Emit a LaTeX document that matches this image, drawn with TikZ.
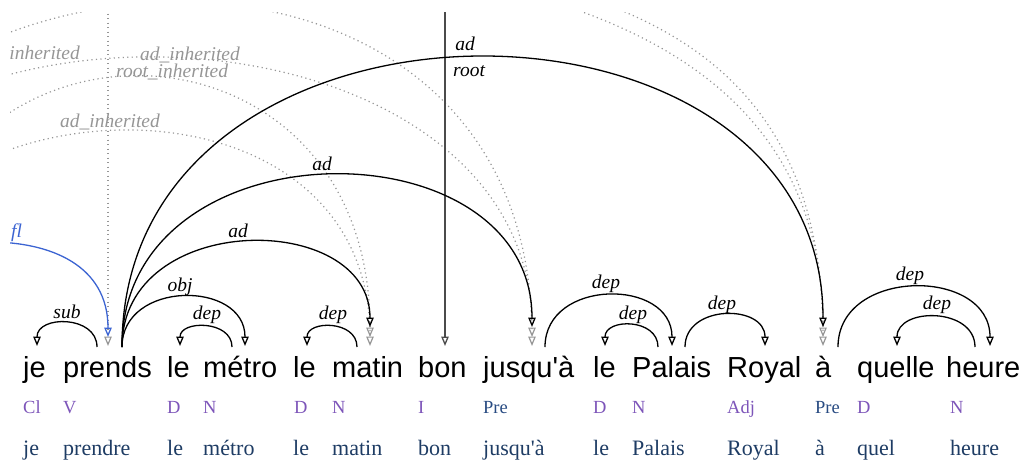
\documentclass[tikz,border=0pt]{standalone}
\usepackage{fontspec}
\setmainfont{Liberation Serif}
\newfontfamily\wordfont{Liberation Sans}
\usetikzlibrary{arrows.meta}
\definecolor{posc}{RGB}{125,85,185}
\definecolor{prec}{RGB}{40,75,130}
\definecolor{lemc}{RGB}{30,60,100}
\definecolor{flc}{RGB}{60,100,210}
\definecolor{inhc}{RGB}{150,150,150}
\definecolor{rootc}{RGB}{75,75,75}
\begin{document}
\begin{tikzpicture}[x=1pt,y=-1pt,
  word/.style={font=\wordfont\fontsize{29}{30}\selectfont, anchor=base west, inner sep=0pt},
  posn/.style={font=\fontsize{18.5}{20}\selectfont, text=posc, anchor=base west, inner sep=0pt},
  prepos/.style={posn, text=prec},
  lemma/.style={font=\fontsize{22}{24}\selectfont, text=lemc, anchor=base west, inner sep=0pt},
  lab/.style={font=\itshape\fontsize{19.5}{20}\selectfont, anchor=base, inner sep=0pt},
  inhlab/.style={lab, text=inhc},
  tip/.style={-{Triangle[open,length=9.5pt,width=7.5pt]}},
  arcline/.style={tip, line width=1.3pt, black},
  inharc/.style={tip, line width=1.2pt, inhc, dash pattern=on 1.2pt off 3.3pt},
  flarc/.style={tip, line width=1.3pt, flc},
  rootarc/.style={tip, line width=1.3pt, rootc}]
\useasboundingbox (0,0) rectangle (1030,459);
\clip (10,12) rectangle (1030,459);

% words
\node[word] (w1) at (23,377) {je};
\node[word] (w2) at (63,377) {prends};
\node[word] (w3) at (167,377) {le};
\node[word] (w4) at (203,377) {métro};
\node[word] (w5) at (293,377) {le};
\node[word] (w6) at (332,377) {matin};
\node[word] (w7) at (418,377) {bon};
\node[word] (w8) at (483,377) {jusqu\textquotesingle à};
\node[word] (w9) at (593,377) {le};
\node[word] (w10) at (632,377) {Palais};
\node[word] (w11) at (727,377) {Royal};
\node[word] (w12) at (815,377) {à};
\node[word] (w13) at (857,377) {quelle};
\node[word] (w14) at (946,377) {heure};

% POS
\node[posn] (p1) at (23,413) {Cl};
\node[posn] (p2) at (63,413) {V};
\node[posn] (p3) at (167,413) {D};
\node[posn] (p4) at (203,413) {N};
\node[posn] (p5) at (294,413) {D};
\node[posn] (p6) at (332,413) {N};
\node[posn] (p7) at (418,413) {I};
\node[prepos] (p8) at (483,413) {Pre};
\node[posn] (p9) at (593,413) {D};
\node[posn] (p10) at (632,413) {N};
\node[posn] (p11) at (727,413) {Adj};
\node[prepos] (p12) at (815,413) {Pre};
\node[posn] (p13) at (857,413) {D};
\node[posn] (p14) at (950,413) {N};

% lemmas
\node[lemma] (l1) at (23,455) {je};
\node[lemma] (l2) at (63,455) {prendre};
\node[lemma] (l3) at (167,455) {le};
\node[lemma] (l4) at (203,455) {métro};
\node[lemma] (l5) at (293,455) {le};
\node[lemma] (l6) at (332,455) {matin};
\node[lemma] (l7) at (418,455) {bon};
\node[lemma] (l8) at (483,455) {jusqu\textquotesingle à};
\node[lemma] (l9) at (593,455) {le};
\node[lemma] (l10) at (632,455) {Palais};
\node[lemma] (l11) at (727,455) {Royal};
\node[lemma] (l12) at (815,455) {à};
\node[lemma] (l13) at (857,455) {quel};
\node[lemma] (l14) at (950,455) {heure};

% attachment points
\coordinate (je-in) at (37,346);
\coordinate (prends-sub) at (97,347);
\coordinate (prends-out) at (122,347);
\coordinate (prends-fl) at (108,337);
\coordinate (prends-inh) at (108,346);
\coordinate (le1-in) at (180,346);
\coordinate (metro-in) at (245,346);
\coordinate (metro-out) at (232,347);
\coordinate (le2-in) at (307,346);
\coordinate (matin-out) at (357,347);
\coordinate (matin-in) at (370,327);
\coordinate (matin-i1) at (370,337);
\coordinate (matin-i2) at (370,346);
\coordinate (bon-in) at (445,346);
\coordinate (jus-in) at (532,327);
\coordinate (jus-i1) at (532,337);
\coordinate (jus-i2) at (532,346);
\coordinate (jus-out) at (545,347);
\coordinate (le3-in) at (605,346);
\coordinate (pal-out1) at (658,347);
\coordinate (pal-in) at (672,346);
\coordinate (pal-out2) at (685,347);
\coordinate (royal-in) at (765,346);
\coordinate (a-in) at (823,327);
\coordinate (a-i1) at (823,337);
\coordinate (a-i2) at (823,346);
\coordinate (a-out) at (838,347);
\coordinate (quel-in) at (897,346);
\coordinate (heure-out) at (975,347);
\coordinate (heure-in) at (990,346);
% free ends outside the visible fragment
\coordinate (roottop) at (445,0);
\coordinate (inhtop) at (108,0);
\coordinate (flstart) at (-10,242);
\coordinate (o1) at (-150,346);
\coordinate (o2) at (-100,337);
\coordinate (o3) at (-230,337);
\coordinate (o4) at (-230,346);
\coordinate (o5) at (150,-50);
\coordinate (o6) at (100,-50);

% inherited (dotted) arcs
\draw[inharc] (inhtop) -- (prends-inh);
\draw[inharc] (o1) .. controls (-150,80) and (370,40) .. (matin-i2);
\draw[inharc] (o2) .. controls (-100,-10) and (370,-10) .. (matin-i1);
\draw[inharc] (o3) .. controls (-230,-40) and (532,-30) .. (jus-i1);
\draw[inharc] (o4) .. controls (-230,-70) and (532,-150) .. (jus-i2);
\draw[inharc] (o5) .. controls (550,-50) and (823,0) .. (a-i2);
\draw[inharc] (o6) .. controls (500,-50) and (823,20) .. (a-i1);

\node[inhlab, anchor=base east] (il1) at (80,59) {ad\_inherited};
\node[inhlab] (il2) at (190,60) {ad\_inherited};
\node[inhlab, anchor=base west] (il3) at (116,77) {root\_inherited};
\node[inhlab] (il4) at (110,127) {ad\_inherited};

% fl (blue)
\draw[flarc] (flstart) .. controls (50,242) and (108,265) .. (prends-fl);
\node[lab, text=flc, anchor=base west] (lfl) at (11,237) {fl};

% root
\draw[rootarc] (roottop) -- (bon-in);
\node[lab, anchor=base west] (lroot) at (453,76) {root};

% dependency arcs
\draw[arcline] (prends-sub) .. controls (97,315) and (37,315) .. (je-in);
\node[lab] (lsub) at (67,318) {sub};
\draw[arcline] (prends-out) .. controls (122,280) and (245,280) .. (metro-in);
\node[lab] (lobj) at (180,291) {obj};
\draw[arcline] (metro-out) .. controls (232,320) and (180,320) .. (le1-in);
\node[lab] (ld1) at (207,319) {dep};
\draw[arcline] (prends-out) .. controls (122,210) and (370,210) .. (matin-in);
\node[lab] (lad1) at (238,237) {ad};
\draw[arcline] (matin-out) .. controls (357,320) and (307,320) .. (le2-in);
\node[lab] (ld2) at (333,319) {dep};
\draw[arcline] (prends-out) .. controls (122,121) and (532,121) .. (jus-in);
\node[lab] (lad2) at (322,170) {ad};
\draw[arcline] (prends-out) .. controls (122,-36) and (823,-36) .. (a-in);
\node[lab] (lad3) at (465,50) {ad};
\draw[arcline] (jus-out) .. controls (545,278) and (672,278) .. (pal-in);
\node[lab] (ld3) at (606,288) {dep};
\draw[arcline] (pal-out1) .. controls (658,318) and (605,318) .. (le3-in);
\node[lab] (ld4) at (633,319) {dep};
\draw[arcline] (pal-out2) .. controls (685,304) and (765,304) .. (royal-in);
\node[lab] (ld5) at (722,309) {dep};
\draw[arcline] (a-out) .. controls (838,267) and (990,267) .. (heure-in);
\node[lab] (ld6) at (910,280) {dep};
\draw[arcline] (heure-out) .. controls (975,307) and (897,307) .. (quel-in);
\node[lab] (ld7) at (937,309) {dep};
\end{tikzpicture}
\end{document}
